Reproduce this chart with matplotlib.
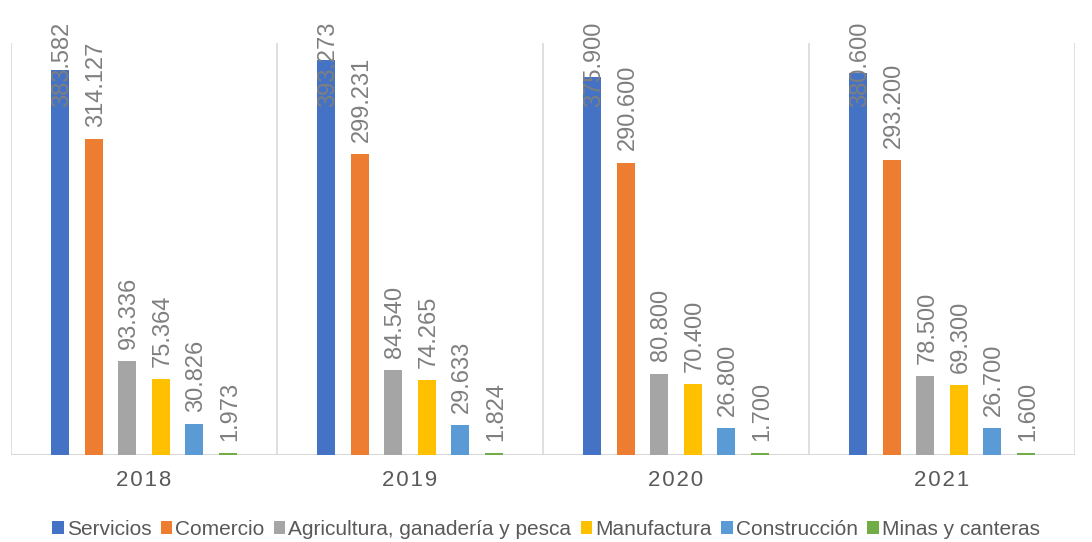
import matplotlib
matplotlib.use("Agg")
import matplotlib.pyplot as plt
import numpy as np

years = ["2018", "2019", "2020", "2021"]
series_names = ["Servicios", "Comercio", "Agricultura, ganadería y pesca",
                "Manufactura", "Construcción", "Minas y canteras"]
servicios = [383.582, 393.273, 375.900, 380.600]
comercio = [314.127, 299.231, 290.600, 293.200]
agricultura = [93.336, 84.540, 80.800, 78.500]
manufactura = [75.364, 74.265, 70.400, 69.300]
construccion = [30.826, 29.633, 26.800, 26.700]
minas = [1.973, 1.824, 1.700, 1.600]
labels = [
    ["383.582", "393.273", "375.900", "380.600"],
    ["314.127", "299.231", "290.600", "293.200"],
    ["93.336", "84.540", "80.800", "78.500"],
    ["75.364", "74.265", "70.400", "69.300"],
    ["30.826", "29.633", "26.800", "26.700"],
    ["1.973", "1.824", "1.700", "1.600"],
]
colors = ["#4472C4", "#ED7D31", "#A5A5A5", "#FFC000", "#5B9BD5", "#70AD47"]

plt.rcParams['font.family'] = ['Liberation Sans', 'DejaVu Sans']

W, H, DPI = 1092, 542, 100
fig = plt.figure(figsize=(W / DPI, H / DPI), dpi=DPI)
ax = fig.add_axes([11 / W, 1 - 455 / H, (1075 - 11) / W, (455 - 43) / H])

data = [servicios, comercio, agricultura, manufactura, construccion, minas]
x = np.arange(len(years))
step = 0.126
width = 0.068
anns = []
for j, (vals, c, name) in enumerate(zip(data, colors, series_names)):
    pos = x + (j - 2.5) * step
    ax.bar(pos, vals, width=width, color=c, label=name, zorder=2)
    for p, v, lab in zip(pos, vals, labels[j]):
        a = ax.annotate(lab, xy=(p, v), xytext=(1.5, 9), textcoords='offset points',
                        rotation=90, ha='center', va='bottom', fontsize=17,
                        color='#7F7F7F', zorder=3, annotation_clip=False)
        anns.append(a)

ax.set_xlim(-0.5, 3.5)
ax.set_ylim(0, 410)
for xv in [-0.5, 0.5, 1.5, 2.5, 3.5]:
    ax.axvline(xv, color='#D9D9D9', lw=1.2, zorder=1)
for s in ax.spines.values():
    s.set_visible(False)
ax.axhline(0, color='#D9D9D9', lw=1.5, zorder=1)
ax.set_yticks([])
ax.set_xticks(x)
ax.set_xticklabels(["\u200a".join(y) for y in years], fontsize=16, color='#595959')
ax.tick_params(axis='x', length=0, pad=11)

fig.canvas.draw()
renderer = fig.canvas.get_renderer()
limit = H - 22
for a in anns:
    bb = a.get_window_extent(renderer)
    if bb.y1 > limit:
        excess = bb.y1 - limit
        a.xyann = (1.5, 9 - excess * 72 / DPI)

leg = fig.legend(loc='lower center', bbox_to_anchor=(0.5, -0.025), ncol=6, frameon=False,
                 fontsize=15, handlelength=0.55, handleheight=0.55, handletextpad=0.15,
                 columnspacing=0.45, labelcolor='#595959', borderaxespad=0.4)

fig.savefig("out.png", dpi=DPI)
